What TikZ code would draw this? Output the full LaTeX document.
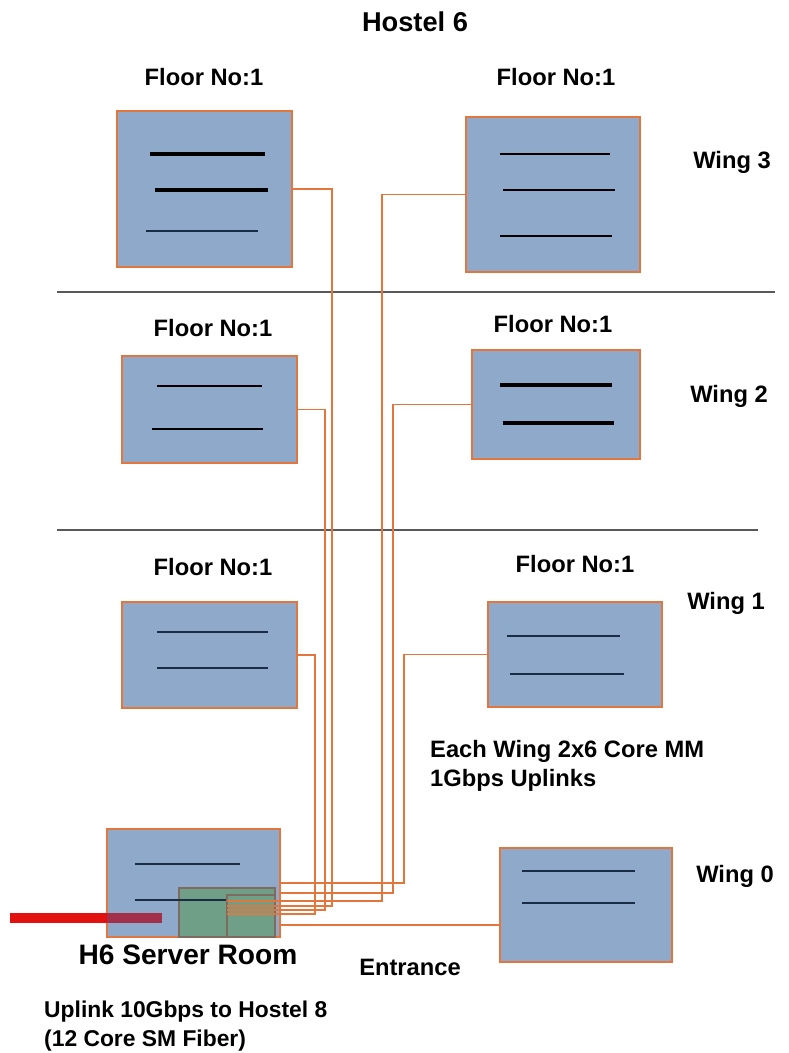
\documentclass[tikz,border=0pt]{standalone}
\usepackage{fontspec}
\setmainfont{Liberation Sans}
\usepackage{xcolor}
\usepackage{tikz}
\usetikzlibrary{positioning}
\definecolor{boxblue}{HTML}{8FA9CA}
\definecolor{wireorange}{HTML}{E3763C}
\definecolor{rackgreen}{HTML}{6FA087}
\definecolor{rackedge}{HTML}{7E6A5E}
\definecolor{barnavy}{HTML}{1B2C45}
\definecolor{uplinkred}{HTML}{E31010}
\definecolor{uplinkdark}{HTML}{A2304A}

\begin{document}
\begin{tikzpicture}[x=0.02cm,y=-0.02cm,
    font=\bfseries\fontsize{13.5}{16.4}\selectfont,
    floor/.style={draw=wireorange,fill=boxblue,line width=0.8pt,inner sep=0pt},
    wire/.style={draw=wireorange,line width=0.8pt},
    bar/.style={draw=barnavy,line width=1.2pt},
    thickbar/.style={draw=black,line width=1.8pt},
    divider/.style={draw=black!65,line width=1.2pt},
    rack/.style={draw=rackedge,fill=rackgreen,line width=0.7pt}]
    \useasboundingbox (0,0) rectangle (788,1053);

    \node[font=\bfseries\fontsize{15.5}{18}\selectfont] (title) at (415,22) {Hostel 6};

    % wing 3
    \node (lab3l) at (204,77) {Floor No:1};
    \node (lab3r) at (556,77) {Floor No:1};
    \node[floor,minimum width=3.5cm,minimum height=3.12cm] (l3) at (204.5,189) {};
    \node[floor,minimum width=3.48cm,minimum height=3.1cm] (r3) at (553,194.5) {};
    \draw[thickbar] (150,154)--(265,154);
    \draw[thickbar] (155,190)--(268,190);
    \draw[bar] (146,231)--(258,231);
    \draw[thickbar,line width=1.4pt] (500,154)--(610,154);
    \draw[thickbar,line width=1.4pt] (503,190)--(615,190);
    \draw[thickbar,line width=1.2pt] (500,236)--(612,236);
    \node (wing3) at (732,162) {Wing 3};
    \draw[divider] (57,292)--(775,292);

    % wing 2
    \node (lab2l) at (213,328) {Floor No:1};
    \node (lab2r) at (553,324) {Floor No:1};
    \node[floor,minimum width=3.5cm,minimum height=2.14cm] (l2) at (209.5,409.5) {};
    \node[floor,minimum width=3.36cm,minimum height=2.18cm] (r2) at (556,404.5) {};
    \draw[bar,draw=black] (157,386)--(262,386);
    \draw[bar,draw=black] (152,429)--(263,429);
    \draw[thickbar] (500,385)--(612,385);
    \draw[thickbar] (503,423)--(614,423);
    \node (wing2) at (729,396) {Wing 2};
    \draw[divider] (57,530)--(758,530);

    % wing 1
    \node (lab1l) at (213,567) {Floor No:1};
    \node (lab1r) at (575,564) {Floor No:1};
    \node[floor,minimum width=3.5cm,minimum height=2.12cm] (l1) at (209.5,655) {};
    \node[floor,minimum width=3.48cm,minimum height=2.1cm] (r1) at (575,654.5) {};
    \draw[bar] (157,632)--(268,632);
    \draw[bar] (157,668)--(268,668);
    \draw[bar] (507,636)--(620,636);
    \draw[bar] (510,674)--(624,674);
    \node (wing1) at (726,603) {Wing 1};
    \node[anchor=west,align=left] (note) at (424,766) {Each Wing 2x6 Core MM\\1Gbps Uplinks};

    % server room and wing 0
    \node[floor,minimum width=3.46cm,minimum height=2.16cm] (srv) at (193.5,883) {};
    \draw[bar] (135,864)--(240,864);
    \node[rack,minimum width=1.92cm,minimum height=0.98cm] (rackA) at (227,912.5) {};
    \draw[bar] (135,900)--(229,900);
    \node[rack,minimum width=0.96cm,minimum height=0.84cm] (rackB) at (251,916) {};
    \draw[uplinkred,line width=0.2cm] (10,918)--(107,918);
    \draw[uplinkdark,line width=0.2cm] (107,918)--(162,918);
    \node[font=\bfseries\fontsize{16}{19}\selectfont] (srvlab) at (188,955) {H6 Server Room};
    \node[floor,minimum width=3.44cm,minimum height=2.28cm] (w0) at (586,905) {};
    \draw[bar] (522,871)--(635,871);
    \draw[bar] (522,903)--(635,903);
    \node (wing0) at (735,876) {Wing 0};
    \node (entr) at (410,967) {Entrance};
    \node[anchor=west,align=left,font=\bfseries\fontsize{13}{16.4}\selectfont] (uplink) at (38,1026)
      {Uplink 10Gbps to Hostel 8\\(12 Core SM Fiber)};

    % fibre runs into the server room
    \coordinate (e1) at (280,883);
    \coordinate (e2) at (280,893);
    \coordinate (e3) at (227,901);
    \coordinate (e4) at (227,906);
    \coordinate (e5) at (227,910);
    \coordinate (e6) at (227,914);
    \coordinate (e0) at (280,925);
    \draw[wire] (r1.west) -| (404,883) -- (e1);
    \draw[wire] (r2.west) -| (393,893) -- (e2);
    \draw[wire] (r3.west) -| (382,901) -- (e3);
    \draw[wire] (l3.east) -| (332,906) -- (e4);
    \draw[wire] (l2.east) -| (325,910) -- (e5);
    \draw[wire] (l1.east) -| (315,914) -- (e6);
    \draw[wire] (e0) -- (e0 -| w0.west);
\end{tikzpicture}
\end{document}
